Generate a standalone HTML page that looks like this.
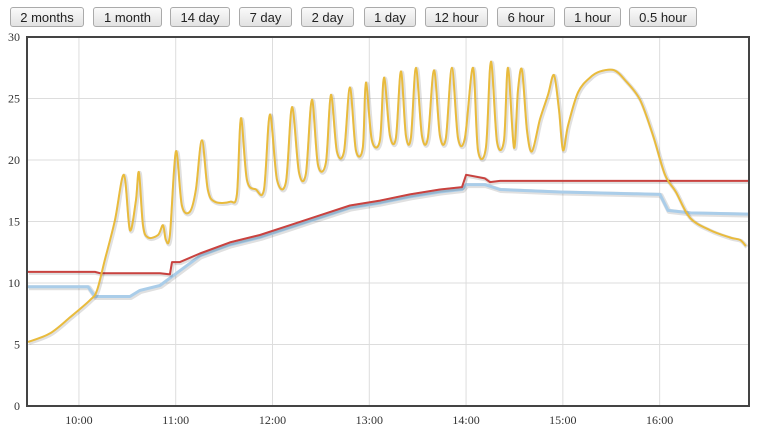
<!DOCTYPE html>
<html><head><meta charset="utf-8">
<style>
body{margin:0;width:763px;height:430px;background:#fff;font-family:"Liberation Sans",sans-serif;overflow:hidden;position:relative}
.btn{position:absolute;top:7px;height:20px;border:1px solid #aaa;border-radius:3px;background:linear-gradient(#fafafa,#e2e2e2);font-size:13px;line-height:20px;text-align:center;color:#222;box-sizing:border-box}
svg{position:absolute;left:0;top:0}
</style></head><body>
<div>
<div class="btn" style="left:10px;width:74px">2 months</div>
<div class="btn" style="left:93px;width:69px">1 month</div>
<div class="btn" style="left:170px;width:60px">14 day</div>
<div class="btn" style="left:239px;width:53px">7 day</div>
<div class="btn" style="left:301px;width:53px">2 day</div>
<div class="btn" style="left:364px;width:52px">1 day</div>
<div class="btn" style="left:425px;width:63px">12 hour</div>
<div class="btn" style="left:497px;width:58px">6 hour</div>
<div class="btn" style="left:564px;width:57px">1 hour</div>
<div class="btn" style="left:629px;width:68px">0.5 hour</div>
</div>
<svg id="chart" width="763" height="430"></svg>
<script>
const yTicks=[0,5,10,15,20,25,30];
const xTickLabels=["10:00","11:00","12:00","13:00","14:00","15:00","16:00"];
const xTickMinutes=[600,660,720,780,840,900,960];
const yellowT=[568.4,582,594.4,606.8,611.2,616.1,622.3,627.9,631.6,635.3,637.2,639.7,642.8,649,652.1,653.9,656.4,660.1,663.8,668.8,672.5,676.2,679.9,684.3,693.6,697.9,700.4,704.1,709.7,714.7,718.4,722.8,728.3,732.1,736.4,740.7,744.4,748.2,753.1,756.2,759.9,764.3,768,771.7,776,777.9,781.6,786.6,789.1,792.8,796.5,799.6,802.7,805.8,808.9,812.6,816.3,820.1,823.8,827.5,831.2,835,839.3,844.3,847.4,852.3,855.4,859.2,863.5,866,869.7,872.2,874.7,877.8,880.9,885.8,890.8,894.5,897.6,900.1,903.2,909.4,916.8,923,931.7,938.5,947.8,955.9,963.3,970.1,978.8,991.2,1003.6,1009.8,1013.5];
const yellowV=[5.2,5.9,7.2,8.6,9.4,11.9,15.1,18.8,14.3,16.7,19,14.7,13.7,13.9,14.7,13.5,13.9,20.7,16.3,15.8,17.6,21.6,17.6,16.6,16.6,17.2,23.4,18.4,17.6,17.6,23.7,18.4,18.2,24.3,19,18.9,24.9,19.6,19.8,25.3,20.7,20.7,25.9,20.8,21,26.3,21.6,21.6,26.7,22,21.8,27.2,22,21.8,27.5,22,21.8,27.3,22,21.8,27.5,21.8,21.8,27.5,20.8,21,28,21.5,21.6,27.5,21,25.7,27.3,22.4,20.7,23.3,25.3,26.9,24.1,20.8,22.8,25.5,26.7,27.2,27.3,26.5,24.9,22,18.8,17.4,15.3,14.3,13.7,13.5,13];
const redT=[568.4,609.9,613,650.2,656.4,657.7,662.6,675,693.6,712.2,730.8,749.4,768,786.6,805.2,823.8,837.5,840,851.7,854.8,861,1015.4];
const redV=[10.9,10.9,10.8,10.8,10.7,11.7,11.7,12.4,13.3,13.9,14.7,15.5,16.3,16.7,17.2,17.6,17.8,18.8,18.5,18.2,18.3,18.3];
const blueT=[568.4,605.6,609.9,631.6,637.8,650.2,662.6,675,693.6,712.2,730.8,749.4,768,786.6,805.2,823.8,837.5,840,851.7,861,898.2,960.2,965.2,978.8,1015.4];
const blueV=[9.7,9.7,8.9,8.9,9.4,9.8,11,12.2,13.1,13.7,14.5,15.3,16.1,16.5,17,17.4,17.6,18,18,17.6,17.4,17.2,15.9,15.7,15.6];
const L=27,R=749,T=37,B=406,t0=567.8,t1=1015.4,vMax=30;
const xs=t=>L+(t-t0)/(t1-t0)*(R-L);
const ys=v=>B-v/vMax*(B-T);
const svg=document.getElementById('chart');
const NS='http://www.w3.org/2000/svg';
function mk(tag,attrs){const e=document.createElementNS(NS,tag);for(const k in attrs)e.setAttribute(k,attrs[k]);svg.appendChild(e);return e;}
yTicks.forEach(v=>{
 const g=mk('line',{x1:L,x2:R,y1:ys(v),y2:ys(v),stroke:'#ddd','stroke-width':1});
 
 
 const t=mk('text',{x:20,y:ys(v)+4,'text-anchor':'end','font-size':12,fill:'#333','font-family':'Liberation Serif, serif'});
 t.textContent=v;
 
 
});
xTickMinutes.forEach((m,i)=>{
 const g=mk('line',{x1:xs(m),x2:xs(m),y1:T,y2:B,stroke:'#ddd','stroke-width':1});
 
 
 const t=mk('text',{x:xs(m),y:424,'text-anchor':'middle','font-size':12,fill:'#333','font-family':'Liberation Serif, serif'});
 t.textContent=xTickLabels[i];
 
 
});
function pathD(T_,V_,smooth){
 const P=T_.map((t,i)=>[xs(t),ys(V_[i])]);
 if(!smooth)return P.map((p,i)=>(i?'L':'M')+p[0].toFixed(1)+','+p[1].toFixed(1)).join('');
 let d='M'+P[0][0].toFixed(1)+','+P[0][1].toFixed(1);
 for(let i=0;i<P.length-1;i++){
  const p0=P[Math.max(0,i-1)],p1=P[i],p2=P[i+1],p3=P[Math.min(P.length-1,i+2)];
  const k=0.16;
  const c1=[p1[0]+(p2[0]-p0[0])*k,p1[1]+(p2[1]-p0[1])*k];
  const c2=[p2[0]-(p3[0]-p1[0])*k,p2[1]-(p3[1]-p1[1])*k];
  d+='C'+c1.map(n=>n.toFixed(1)).join(',')+' '+c2.map(n=>n.toFixed(1)).join(',')+' '+p2[0].toFixed(1)+','+p2[1].toFixed(1);
 }
 return d;
}
function line(T_,V_,color,w,name,smooth){
 const d=pathD(T_,V_,smooth);
 const s=mk('path',{d:d,fill:'none',stroke:'rgba(0,0,0,0.12)','stroke-width':w+2,transform:'translate(1,1)','stroke-linejoin':'round'});
 
 
 const p=mk('path',{d:d,fill:'none',stroke:color,'stroke-width':w,'stroke-linejoin':'round'});
 
 
}
line(blueT,blueV,'#aacde9',3,'blue-series-line',false);
line(redT,redV,'#c9423f',2,'red-series-line',false);
line(yellowT,yellowV,'#e9bb3c',2,'yellow-series-line',true);
const f=mk('rect',{x:L,y:T,width:R-L,height:B-T,fill:'none',stroke:'#444','stroke-width':2});


</script>
</body></html>
